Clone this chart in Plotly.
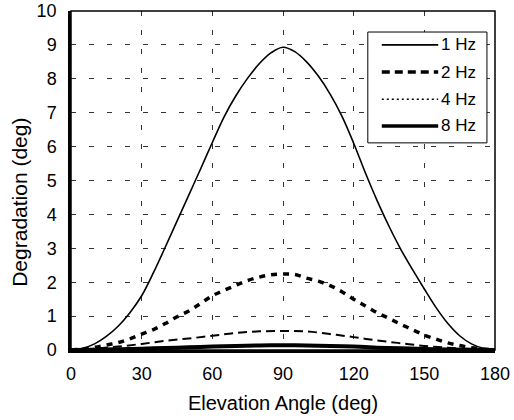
import plotly.graph_objects as go

# ---- data ----
angle_fine = [0, 5, 10, 15, 20, 25, 30, 35, 40, 45, 50, 55, 60, 65, 70, 75, 80, 85, 90,
              95, 100, 105, 110, 115, 120, 125, 130, 135, 140, 145, 150, 155, 160, 165, 170, 175, 180]
deg_1hz = [0, 0.05, 0.18, 0.4, 0.7, 1.1, 1.6, 2.28, 3.03, 3.8, 4.57, 5.34, 6.12, 6.88, 7.5, 8.02, 8.45, 8.77, 8.93,
           8.8, 8.5, 8.08, 7.55, 6.9, 6.1, 5.22, 4.4, 3.65, 2.97, 2.37, 1.8, 1.25, 0.78, 0.42, 0.18, 0.05, 0]
deg_2hz = [0, 0.03, 0.08, 0.15, 0.22, 0.33, 0.47, 0.6, 0.78, 0.98, 1.15, 1.37, 1.6, 1.76, 1.91, 2.05, 2.15, 2.22, 2.24,
           2.23, 2.12, 2.03, 1.9, 1.72, 1.5, 1.3, 1.1, 0.93, 0.76, 0.6, 0.44, 0.32, 0.21, 0.13, 0.07, 0.03, 0]

angle_coarse = [0, 10, 20, 30, 40, 50, 60, 70, 80, 90, 100, 110, 120, 130, 140, 150, 160, 170, 180]
deg_4hz = [0, 0.04, 0.1, 0.18, 0.27, 0.34, 0.42, 0.5, 0.55, 0.56, 0.55, 0.47, 0.38, 0.28, 0.2, 0.12, 0.07, 0.03, 0]
deg_8hz = [0, 0.01, 0.02, 0.04, 0.06, 0.08, 0.1, 0.12, 0.135, 0.14, 0.135, 0.12, 0.1, 0.07, 0.05, 0.03, 0.015, 0.005, 0]

series_names = ["1 Hz", "2 Hz", "4 Hz", "8 Hz"]
x_ticks = [0, 30, 60, 90, 120, 150, 180]
y_ticks = list(range(0, 11))

FONT = "Liberation Sans, Arial, sans-serif"

styles = [
    dict(color="black", width=1.6, dash="solid"),
    dict(color="black", width=3.5, dash="6px,6px"),
    dict(color="black", width=2.0, dash="9px,5px"),
    dict(color="black", width=4.0, dash="solid"),
]
legend_styles = [
    dict(color="black", width=1.6, dash="solid"),
    dict(color="black", width=3.5, dash="8px,5px"),
    dict(color="black", width=1.5, dash="2px,3px"),
    dict(color="black", width=3.5, dash="solid"),
]

fig = go.Figure()
data_sets = [(angle_fine, deg_1hz), (angle_fine, deg_2hz), (angle_coarse, deg_4hz), (angle_coarse, deg_8hz)]
for name, (xs, ys), st in zip(series_names, data_sets, styles):
    fig.add_trace(go.Scatter(x=xs, y=ys, mode="lines", name=name, line=dict(shape="spline", **st),
                             showlegend=False))

# custom legend box (drawn in paper coordinates)
shapes = [dict(type="rect", xref="paper", yref="paper", x0=0.700, x1=0.981, y0=0.611, y1=0.938,
               line=dict(color="black", width=1), fillcolor="white", layer="above")]
annotations = []
row_y = [0.900, 0.820, 0.740, 0.661]
for name, ry, st in zip(series_names, row_y, legend_styles):
    shapes.append(dict(type="line", xref="paper", yref="paper", x0=0.733, x1=0.866, y0=ry, y1=ry,
                       line=st, layer="above"))
    annotations.append(dict(xref="paper", yref="paper", x=0.868, y=ry, text=name, showarrow=False,
                            xanchor="left", yanchor="middle", font=dict(family=FONT, size=17, color="black")))

# frame
shapes.append(dict(type="rect", xref="paper", yref="paper", x0=0, x1=1, y0=0, y1=1,
                   line=dict(color="black", width=1.5), layer="above"))

# y-axis title
annotations.append(dict(xref="paper", yref="paper", x=-0.122, y=0.435, text="Degradation (deg)",
                        textangle=-90, showarrow=False, xanchor="center", yanchor="middle",
                        font=dict(family=FONT, size=21, color="black")))

fig.update_layout(
    width=514, height=420,
    margin=dict(l=71, r=19, t=11, b=70, autoexpand=False),
    paper_bgcolor="white", plot_bgcolor="white",
    font=dict(family=FONT, size=18, color="black"),
    shapes=shapes, annotations=annotations,
    showlegend=False,
)
fig.update_xaxes(range=[0, 180], tickvals=x_ticks, showgrid=True, gridcolor="#333", gridwidth=1,
                 griddash="5px,14px", showline=True, linecolor="black", linewidth=2.5, zeroline=False,
                 ticks="", ticklabelstandoff=6, automargin=False,
                 title=dict(text="Elevation Angle (deg)", font=dict(family=FONT, size=20), standoff=13))
fig.update_yaxes(range=[0, 10], tickvals=y_ticks, showgrid=True, gridcolor="#333", gridwidth=1,
                 griddash="5px,13px", showline=True, linecolor="black", linewidth=2.5, zeroline=False,
                 ticks="", ticklabelstandoff=8, automargin=False)

fig.write_html("out.html", config={"displayModeBar": False},
               post_script="document.body.style.margin='0';document.body.style.overflow='hidden';")
